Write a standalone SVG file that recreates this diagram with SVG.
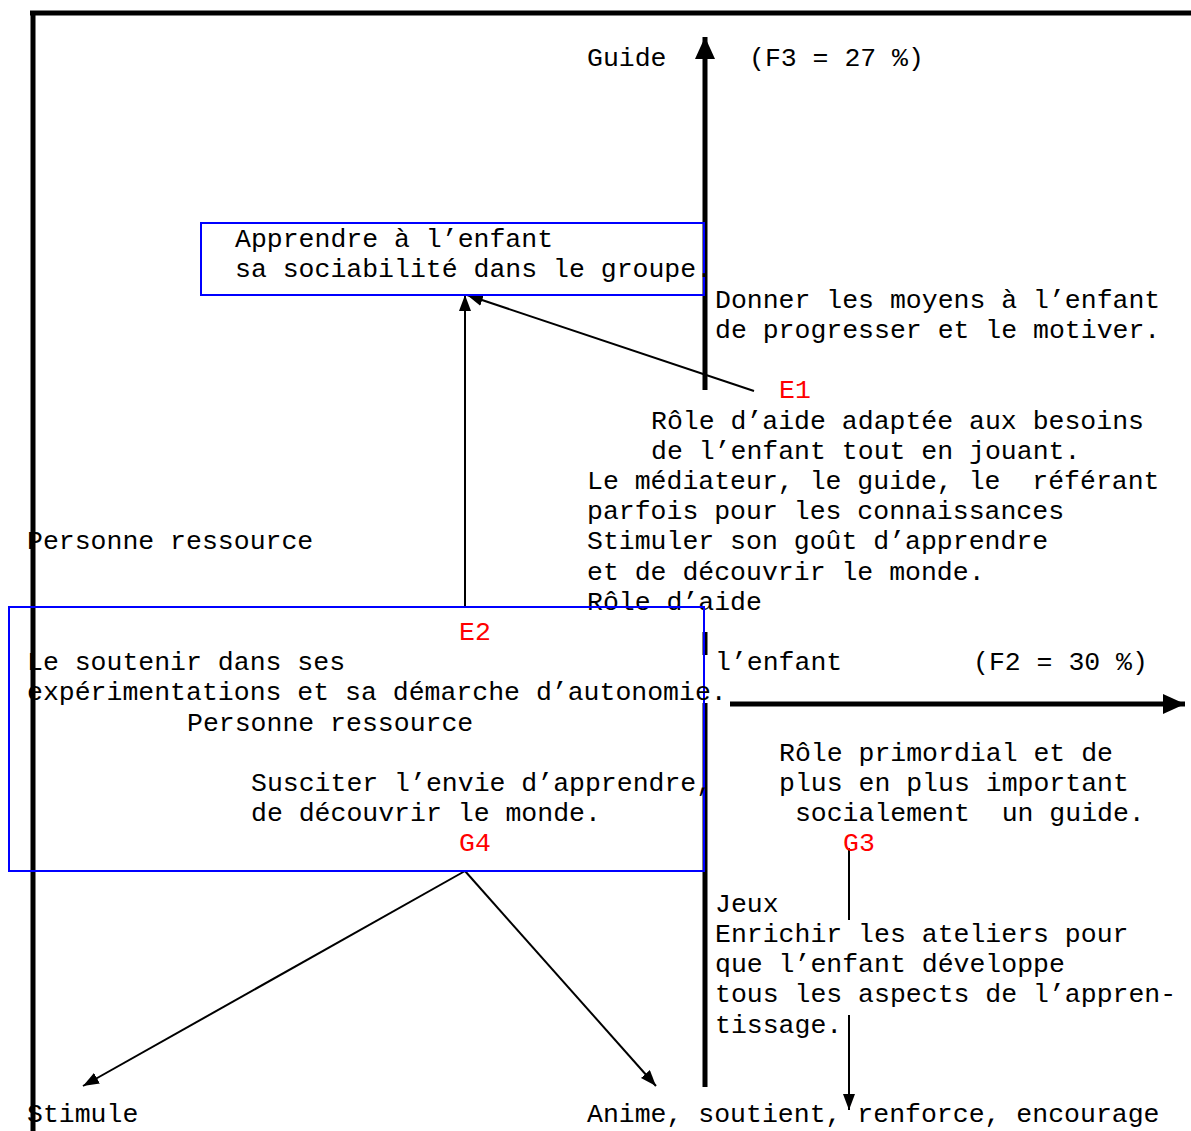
<svg xmlns="http://www.w3.org/2000/svg" width="1191" height="1131" viewBox="0 0 1191 1131">
  <defs>
    <style>
      text { font-family: "Liberation Mono", "Courier New", monospace; font-size: 26.5px; fill: #000; }
      text.tag { fill: #ff0000; }
      .frame { stroke: #000; stroke-width: 5; fill: none; }
      .axis { stroke: #000; stroke-width: 5; fill: none; }
      .box { stroke: #0000ff; stroke-width: 2; fill: none; }
      .link { stroke: #000; stroke-width: 2; fill: none; }
    </style>
    <marker id="head" markerUnits="userSpaceOnUse" markerWidth="16" markerHeight="12" refX="16" refY="6" orient="auto">
      <path d="M0,0 L16,6 L0,12 z" fill="#000"/>
    </marker>
    <marker id="axisHead" markerUnits="userSpaceOnUse" markerWidth="22" markerHeight="20" refX="22" refY="10" orient="auto">
      <path d="M0,0 L22,10 L0,20 z" fill="#000"/>
    </marker>
  </defs>
  <rect width="1191" height="1131" fill="#fff"/>

  <!-- outer frame -->
  <g id="frame">
    <line class="frame" x1="30" y1="13" x2="1191" y2="13"/>
    <line class="frame" x1="33" y1="11" x2="33" y2="1131"/>
  </g>

  <!-- factor axes -->
  <g id="axes">
    <line class="axis" x1="705" y1="390" x2="705" y2="37" marker-end="url(#axisHead)"/>
    <line class="axis" x1="705" y1="632" x2="705" y2="655"/>
    <line class="axis" x1="705" y1="703" x2="705" y2="1087"/>
    <line class="axis" x1="730" y1="704" x2="1185" y2="704" marker-end="url(#axisHead)"/>
    <text x="587" y="66">Guide</text>
    <text x="749" y="66">(F3 = 27 %)</text>
    <text x="715" y="670">l’enfant</text>
    <text x="973" y="670">(F2 = 30 %)</text>
  </g>

  <!-- connectors -->
  <g id="connectors">
    <line class="link" x1="465" y1="607" x2="465" y2="295" marker-end="url(#head)"/>
    <line class="link" x1="754" y1="391" x2="467" y2="295" marker-end="url(#head)"/>
    <line class="link" x1="465" y1="871" x2="83" y2="1086" marker-end="url(#head)"/>
    <line class="link" x1="465" y1="871" x2="656" y2="1086" marker-end="url(#head)"/>
    <line class="link" x1="849" y1="848" x2="849" y2="920"/>
    <line class="link" x1="849" y1="1015" x2="849" y2="1110" marker-end="url(#head)"/>
  </g>

  <!-- group sociability box -->
  <g id="box-groupe">
    <rect class="box" x="201" y="223" width="503" height="72"/>
    <text x="235" y="247">Apprendre à l’enfant</text>
    <text x="235" y="277">sa sociabilité dans le groupe.</text>
  </g>

  <!-- E1 -->
  <g id="node-e1">
    <text x="715" y="308">Donner les moyens à l’enfant</text>
    <text x="715" y="338">de progresser et le motiver.</text>
    <text class="tag" x="779" y="398">E1</text>
    <text x="651" y="429">Rôle d’aide adaptée aux besoins</text>
    <text x="651" y="459">de l’enfant tout en jouant.</text>
    <text x="587" y="489" xml:space="preserve">Le médiateur, le guide, le  référant</text>
    <text x="587" y="519">parfois pour les connaissances</text>
    <text x="587" y="549">Stimuler son goût d’apprendre</text>
    <text x="587" y="580">et de découvrir le monde.</text>
    <text x="587" y="610">Rôle d’aide</text>
  </g>

  <!-- resource person label -->
  <g id="node-personne">
    <text x="27" y="549">Personne ressource</text>
  </g>

  <!-- E2 / G4 box -->
  <g id="box-e2-g4">
    <rect class="box" x="9" y="607" width="695" height="264"/>
    <text class="tag" x="459" y="640">E2</text>
    <text x="27" y="670">Le soutenir dans ses</text>
    <text x="27" y="700">expérimentations et sa démarche d’autonomie.</text>
    <text x="187" y="731">Personne ressource</text>
    <text x="251" y="791">Susciter l’envie d’apprendre,</text>
    <text x="251" y="821">de découvrir le monde.</text>
    <text class="tag" x="459" y="851">G4</text>
  </g>

  <!-- G3 -->
  <g id="node-g3">
    <text x="779" y="761">Rôle primordial et de</text>
    <text x="779" y="791">plus en plus important</text>
    <text x="779" y="821" xml:space="preserve"> socialement  un guide.</text>
    <text class="tag" x="843" y="851">G3</text>
  </g>

  <!-- games -->
  <g id="node-jeux">
    <text x="715" y="912">Jeux</text>
    <text x="715" y="942">Enrichir les ateliers pour</text>
    <text x="715" y="972">que l’enfant développe</text>
    <text x="715" y="1002">tous les aspects de l’appren-</text>
    <text x="715" y="1033">tissage.</text>
  </g>

  <!-- bottom outcomes -->
  <g id="node-stimule">
    <text x="27" y="1122">Stimule</text>
  </g>
  <g id="node-anime">
    <text x="587" y="1122">Anime, soutient, renforce, encourage</text>
  </g>
</svg>
